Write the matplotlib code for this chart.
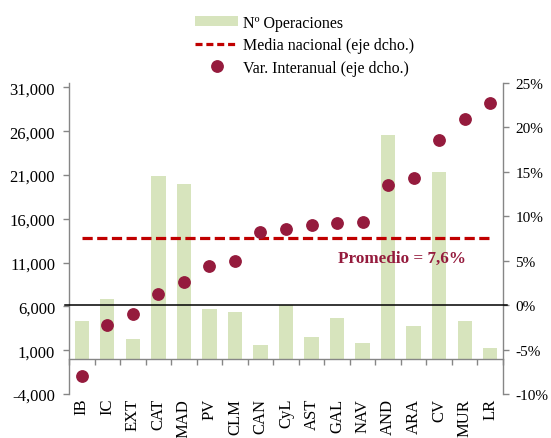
import matplotlib
matplotlib.use("Agg")
import matplotlib.pyplot as plt
from matplotlib.lines import Line2D
from matplotlib.patches import Patch
from matplotlib.ticker import FuncFormatter

plt.rcParams['font.family'] = ['Liberation Serif', 'DejaVu Serif']
plt.rcParams['axes.unicode_minus'] = False

categories = ["IB", "IC", "EXT", "CAT", "MAD", "PV", "CLM", "CAN", "CyL",
              "AST", "GAL", "NAV", "AND", "ARA", "CV", "MUR", "LR"]
operaciones = [4300, 6850, 2250, 20900, 19950, 5750, 5350, 1600, 6150,
               2550, 4650, 1850, 25600, 3800, 21300, 4350, 1250]
var_interanual = [-8.0, -2.2, -1.0, 1.3, 2.6, 4.4, 5.0, 8.2, 8.6,
                  9.0, 9.3, 9.4, 13.5, 14.3, 18.6, 20.9, 22.7]
media_nacional = 7.6
left_ticks = [-4000, 1000, 6000, 11000, 16000, 21000, 26000, 31000]
right_ticks = [-10, -5, 0, 5, 10, 15, 20, 25]

bar_color = '#d7e4bd'
dot_color = '#951b3d'
line_color = '#c00000'
gray = '#868686'

fig = plt.figure(figsize=(5.51, 4.39), dpi=100)
W, H = 551, 439
l, r, t, b = 69, 503, 84, 395
ax = fig.add_axes([l / W, 1 - b / H, (r - l) / W, (b - t) / H])
ax2 = ax.twinx()

x = list(range(len(categories)))
ax.bar(x, operaciones, width=0.56, color=bar_color, zorder=2)
ax.set_xlim(-0.5, len(categories) - 0.5)
ax.set_ylim(-4000, 31500)
ax.set_yticks(left_ticks)
ax.yaxis.set_major_formatter(FuncFormatter(lambda v, p: f"{int(v):,}"))

ax2.set_ylim(-9.8, 25.0)
ax2.set_yticks(right_ticks)
ax2.yaxis.set_major_formatter(FuncFormatter(lambda v, p: f"{int(v)}%"))

# black zero line on right axis
ax2.plot([-0.01, 1.01], [0, 0], color='black', lw=1.1,
         transform=ax2.get_yaxis_transform(), clip_on=False, zorder=3)
ax2.plot(x, [media_nacional] * len(x), color=line_color, lw=2.3,
         dashes=(3.2, 1.4), zorder=4)
ax2.plot(x, var_interanual, linestyle='none', marker='o', ms=8.2,
         color=dot_color, zorder=5)
ax2.text(12.55, media_nacional - 2.3, "Promedio = 7,6%", color=dot_color,
         fontsize=12.3, fontweight='bold', ha='center', va='center')

for a in (ax, ax2):
    a.spines['top'].set_visible(False)
    for s in a.spines.values():
        s.set_color(gray)
        s.set_linewidth(1.0)
ax.spines['right'].set_visible(False)
ax2.spines['left'].set_visible(False)
ax2.spines['bottom'].set_visible(False)
ax.spines['bottom'].set_position(('data', 0))

ax.tick_params(axis='y', direction='out', length=4, width=1, color=gray,
               labelsize=12, pad=6)
ax2.tick_params(axis='y', direction='out', length=4, width=1, color=gray,
                labelsize=11, pad=5)

ax.set_xticks(x)
ax.set_xticklabels(categories, rotation=90, va='top', ha='center')
ax.tick_params(axis='x', which='major', length=0, labelsize=12, pad=28)
ax.set_xticks([i - 0.5 for i in range(len(categories) + 1)], minor=True)
ax.tick_params(axis='x', which='minor', direction='out', length=4, width=1,
               color=gray)

handles = [Patch(facecolor=bar_color, edgecolor='none'),
           Line2D([], [], color=line_color, lw=2.3, dashes=(2.2, 1.2)),
           Line2D([], [], linestyle='none', marker='o', ms=8.2, color=dot_color)]
labels = ["Nº Operaciones", "Media nacional (eje dcho.)",
          "Var. Interanual (eje dcho.)"]
fig.legend(handles, labels, loc='upper left',
           bbox_to_anchor=(187 / W, 1 - 8 / H), frameon=False,
           fontsize=11.5, borderpad=0, labelspacing=0.4, handlelength=2.7,
           handletextpad=0.3, handleheight=0.6)

fig.savefig("out.png", dpi=100)
